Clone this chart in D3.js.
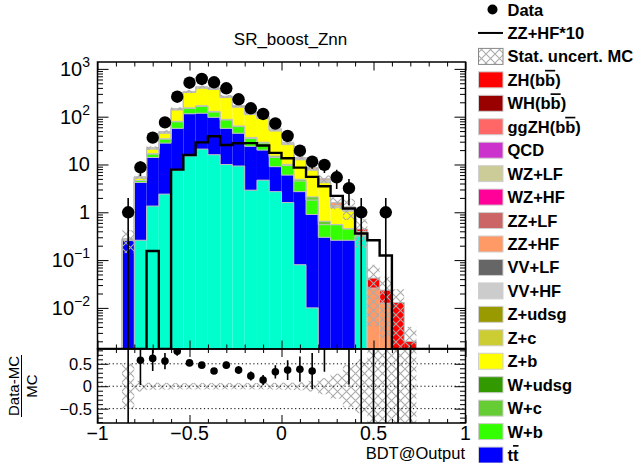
<!DOCTYPE html>
<html><head><meta charset="utf-8">
<script src="https://cdn.jsdelivr.net/npm/d3@7"></script>
<style>
body{margin:0;background:#fff;}
svg{display:block;}
text{font-family:"Liberation Sans",Arial,Helvetica,sans-serif;fill:#000;}
</style>
</head><body>
<svg id="c" width="639" height="463"></svg>
<script>
// ---------------- data (30 bins of BDT output from -1 to 1) ----------------
const nBins = 30;
const xRange = [-1, 1];
const sTop   = [0,0,0,0.26,1.35,2.4,7.5,15,21,16,10,9.3,2.9,4.7,2.7,1.6,0.08,0.01,0,0,0,0.32,0,0,0,0,0,0,0,0];
const ttbar  = [0,0,0.26,3.94,12.65,25.6,49.5,100,97,81,47,35.7,21.1,15.3,6.3,4.4,2.62,0.89,0.3,0.26,0.26,0,0,0,0,0,0,0,0,0];
const Wb     = [0,0,0,0.4,2.5,6,21,35,47,28,28,17,11,8,5,3.5,1.8,0.9,0.25,0.29,0.19,0.02,0,0,0,0,0,0,0,0];
const Wc     = [0,0,0,0,0.3,0.5,2,3,4,4,3,2,1.5,1.2,1,0.6,0.4,0.3,0.1,0,0,0,0,0,0,0,0,0,0,0];
const Wudsg  = [0,0,0,0,0,0,0,0,0,0,0,0,0,0,0,0,0,0,0,0,0,0,0,0,0,0,0,0,0,0];
const Zb     = [0,0,0.01,0.6,4.2,10.5,58,167,226,241,162,94,74,62,35,15.9,7.6,5.5,3.5,0.7,0.6,0.02,0,0,0,0,0,0,0,0];
const Zc     = [0,0,0,0,0.3,1,3,6,7,6,5,4,3,3,1.5,0.8,0.3,0.2,0.2,0.1,0.05,0,0,0,0,0,0,0,0,0];
const Zudsg  = [0,0,0,0,0,0,0,0,0,0,0,0,0,0,0,0,0,0,0,0,0,0,0,0,0,0,0,0,0,0];
const VVHF   = [0,0,0.01,0.3,1.0,2.7,5,10,13,12,9,5.2,5.7,3.3,1.7,0.85,0.34,0.25,0.3,0.03,0.08,0,0,0,0,0,0,0,0,0];
const VVLF   = [0,0,0,0,0,0,0,0,0,0,0,0,0,0,0,0,0,0,0,0,0,0,0,0,0,0,0,0,0,0];
const ZZHF   = [0,0,0,0,0.0155,0,0.78,1.58,2.9,3.9,2.55,2.78,2.8,2.5,1.75,1.35,0.86,0.55,0.35,0.22,0.12,0.036,0.026,0.0125,0,0,0,0,0,0];
const ZZLF   = [0,0,0,0,0,0,0,0,0,0,0,0,0,0,0,0,0,0,0,0,0,0,0,0,0,0,0,0,0,0];
const WZHF   = [0,0,0,0,0,0,0,0,0,0,0,0,0,0,0,0,0,0,0,0,0,0,0,0,0,0,0,0,0,0];
const WZLF   = [0,0,0,0,0,0,0,0,0,0,0,0,0,0,0,0,0,0,0,0,0,0,0,0,0,0,0,0,0,0];
const QCD    = [0,0,0,0,0,0,0,0,0,0,0,0,0,0,0,0,0,0,0,0,0,0,0,0,0,0,0,0,0,0];
const ggZH   = [0,0,0,0,0,0,0,0,0,0,0,0,0,0,0,0,0,0,0,0,0,0,0,0,0,0,0,0,0,0];
const WH     = [0,0,0,0,0,0,0,0,0,0,0,0,0,0,0,0,0,0,0,0,0,0,0,0,0,0,0,0,0,0];
const ZH     = [0,0,0,0,0,0,0,0,0,0,0,0,0,0,0,0,0,0,0,0,0,0.05,0.016,0.011,0.013,0.002,0,0,0,0];
const ZZHFx10 = [0,0,0,0,0.155,0,7.8,15.8,29,39,25.5,27.8,28,25,17.5,13.5,8.6,5.5,3.5,2.2,1.2,0.36,0.26,0.125,0,0,0,0,0,0];
const mcRelErr = [0,0,0.5,0.12,0.08,0.075,0.07,0.07,0.07,0.07,0.07,0.07,0.07,0.07,0.075,0.08,0.09,0.12,0.18,0.28,0.47,0.6,0.9,0.9,0.9,1.0,0,0,0,0];
const dataVal = [null,null,1,8.7,36.4,76,262,514,615,525,393,231,150,114,72,39.5,19.4,11.5,9.8,5.4,3.2,1,null,1,null,null,null,null,null,null];
const dataErr = [null,null,1,2.95,6.0,8.7,16.2,22.7,24.8,22.9,19.8,15.2,12.2,10.7,8.5,6.3,4.4,3.4,3.13,2.32,1.79,1,null,1,null,null,null,null,null,null];
const ratioVal = [null,null,2.6,0.58,0.62,0.56,0.78,0.52,0.47,0.34,0.47,0.36,0.23,0.14,0.32,0.36,0.38,0.34,0.96,2.4,1.46,1.2,-1,41,-1,-1,null,null,null,null];
const ratioErr = [null,null,3.6,0.55,0.28,0.18,0.1,0.065,0.06,0.06,0.075,0.09,0.1,0.11,0.15,0.22,0.28,0.4,0.64,1.4,1.42,2.2,40,42,130,900,null,null,null,null];
const yMajorTicks = [1e-2,1e-1,1,10,100,1000];
const yTickLabels = [["10","−2"],["10","−1"],["1",""],["10",""],["10","2"],["10","3"]];
const xMajorTicks = [-1,-0.5,0,0.5,1];
const xTickLabels = ["−1","−0.5","0","0.5","1"];
const rMajorTicks = [-0.5,0,0.5];
const rTickLabels = ["−0.5","0","0.5"];

// stack, bottom to top
const layers = [
  {name:"sTop", vals:sTop, color:"#00ffcc"},
  {name:"tt", vals:ttbar, color:"#0000ff"},
  {name:"W+b", vals:Wb, color:"#33ff00"},
  {name:"W+c", vals:Wc, color:"#66cc33"},
  {name:"W+udsg", vals:Wudsg, color:"#339900"},
  {name:"Z+b", vals:Zb, color:"#ffff00"},
  {name:"Z+c", vals:Zc, color:"#cccc33"},
  {name:"Z+udsg", vals:Zudsg, color:"#999900"},
  {name:"VV+HF", vals:VVHF, color:"#cccccc"},
  {name:"VV+LF", vals:VVLF, color:"#666666"},
  {name:"ZZ+HF", vals:ZZHF, color:"#ff9966"},
  {name:"ZZ+LF", vals:ZZLF, color:"#cc6666"},
  {name:"WZ+HF", vals:WZHF, color:"#ff0099"},
  {name:"WZ+LF", vals:WZLF, color:"#cccc99"},
  {name:"QCD", vals:QCD, color:"#cc33cc"},
  {name:"ggZH", vals:ggZH, color:"#ff6666"},
  {name:"WH", vals:WH, color:"#990000"},
  {name:"ZH", vals:ZH, color:"#ff0000"}
];

const legendItems = [
  {type:"marker", label:[{t:"Data"}]},
  {type:"line", label:[{t:"ZZ+HF*10"}]},
  {type:"hatch", label:[{t:"Stat. uncert. MC"}]},
  {type:"box", color:"#ff0000", label:[{t:"ZH(b"},{t:"b",o:1},{t:")"}]},
  {type:"box", color:"#990000", label:[{t:"WH(b"},{t:"b",o:1},{t:")"}]},
  {type:"box", color:"#ff6666", label:[{t:"ggZH(b"},{t:"b",o:1},{t:")"}]},
  {type:"box", color:"#cc33cc", label:[{t:"QCD"}]},
  {type:"box", color:"#cccc99", label:[{t:"WZ+LF"}]},
  {type:"box", color:"#ff0099", label:[{t:"WZ+HF"}]},
  {type:"box", color:"#cc6666", label:[{t:"ZZ+LF"}]},
  {type:"box", color:"#ff9966", label:[{t:"ZZ+HF"}]},
  {type:"box", color:"#666666", label:[{t:"VV+LF"}]},
  {type:"box", color:"#cccccc", label:[{t:"VV+HF"}]},
  {type:"box", color:"#999900", label:[{t:"Z+udsg"}]},
  {type:"box", color:"#cccc33", label:[{t:"Z+c"}]},
  {type:"box", color:"#ffff00", label:[{t:"Z+b"}]},
  {type:"box", color:"#339900", label:[{t:"W+udsg"}]},
  {type:"box", color:"#66cc33", label:[{t:"W+c"}]},
  {type:"box", color:"#33ff00", label:[{t:"W+b"}]},
  {type:"box", color:"#0000ff", label:[{t:"t"},{t:"t",o:1}]}
];

// ---------------- layout ----------------
const L = 97.5, R = 465.5, T = 62, M = 349, B = 423;
const svg = d3.select("#c");
const x = d3.scaleLinear(xRange, [L, R]);
const y = d3.scaleLog([Math.pow(10,-2.86), Math.pow(10,3.144)], [M, T]).clamp(true);
const yr = d3.scaleLinear([-0.82, 0.83], [B, M]);
const edges = d3.range(nBins + 1).map(i => xRange[0] + i * (xRange[1] - xRange[0]) / nBins);
const center = i => (edges[i] + edges[i+1]) / 2;
const yv = v => (v > 0 ? y(v) : M);

const defs = svg.append("defs");
const pat = defs.append("pattern").attr("id","hatch").attr("patternUnits","userSpaceOnUse")
  .attr("width",9).attr("height",9);
pat.append("path").attr("d","M0,0L9,9M9,0L0,9").attr("stroke","#aaaaaa").attr("stroke-width",1.1);
defs.append("clipPath").attr("id","clipMain").append("rect").attr("x",L).attr("y",T).attr("width",R-L).attr("height",M-T);
defs.append("clipPath").attr("id","clipRatio").append("rect").attr("x",L).attr("y",M).attr("width",R-L).attr("height",B-M);

// ---------------- main panel ----------------
const gMain = svg.append("g").attr("clip-path","url(#clipMain)");
const cum = [];
let run = new Array(nBins).fill(0);
layers.forEach(l => {
  const lo = run.slice();
  run = run.map((v, i) => v + l.vals[i]);
  cum.push({layer:l, lo:lo, hi:run.slice()});
});
const total = run;

cum.forEach(c => {
  gMain.append("g").selectAll("rect").data(d3.range(nBins).filter(i => c.layer.vals[i] > 0)).join("rect")
    .attr("x", i => x(edges[i])).attr("width", i => x(edges[i+1]) - x(edges[i]))
    .attr("y", i => yv(c.hi[i])).attr("height", i => yv(c.lo[i]) - yv(c.hi[i]))
    .attr("fill", c.layer.color);
});
function stepPath(vals, scaleFn, base) {
  let d = "";
  let open = false;
  for (let i = 0; i < nBins; i++) {
    if (vals[i] > 0) {
      const yy = scaleFn(vals[i]);
      if (!open) { d += `M${x(edges[i])},${base}`; open = true; }
      d += `L${x(edges[i])},${yy}L${x(edges[i+1])},${yy}`;
    } else if (open) {
      d += `L${x(edges[i])},${base}`; open = false;
    }
  }
  if (open) d += `L${x(edges[nBins])},${base}`;
  return d;
}
cum.forEach(c => {
  if (d3.sum(c.layer.vals) <= 0) return;
  gMain.append("path").attr("d", stepPath(c.hi, yv, M)).attr("fill","none")
    .attr("stroke","#c0c0c0").attr("stroke-width",1);
});
gMain.append("g").selectAll("rect").data(d3.range(nBins).filter(i => total[i] > 0)).join("rect")
  .attr("x", i => x(edges[i])).attr("width", i => x(edges[i+1]) - x(edges[i]))
  .attr("y", i => yv(total[i] * (1 + mcRelErr[i])))
  .attr("height", i => yv(total[i] * (1 - mcRelErr[i])) - yv(total[i] * (1 + mcRelErr[i])))
  .attr("fill","url(#hatch)");
{
  let d = `M${x(edges[0])},${yv(ZZHFx10[0])}`;
  for (let i = 0; i < nBins; i++) d += `L${x(edges[i])},${yv(ZZHFx10[i])}L${x(edges[i+1])},${yv(ZZHFx10[i])}`;
  gMain.append("path").attr("d", d).attr("fill","none").attr("stroke","#000").attr("stroke-width",2.4);
}
const dIdx = d3.range(nBins).filter(i => dataVal[i] != null);
gMain.append("g").selectAll("line").data(dIdx).join("line")
  .attr("x1", i => x(center(i))).attr("x2", i => x(center(i)))
  .attr("y1", i => yv(dataVal[i] + dataErr[i])).attr("y2", i => yv(dataVal[i] - dataErr[i]))
  .attr("stroke","#000").attr("stroke-width",1.6);
gMain.append("g").selectAll("circle").data(dIdx).join("circle")
  .attr("cx", i => x(center(i))).attr("cy", i => y(dataVal[i])).attr("r",6.2).attr("fill","#000");

// ---------------- ratio panel ----------------
const gR = svg.append("g").attr("clip-path","url(#clipRatio)");
gR.append("g").selectAll("rect").data(d3.range(nBins).filter(i => total[i] > 0)).join("rect")
  .attr("x", i => x(edges[i])).attr("width", i => x(edges[i+1]) - x(edges[i]))
  .attr("y", i => yr(mcRelErr[i])).attr("height", i => yr(-mcRelErr[i]) - yr(mcRelErr[i]))
  .attr("fill","url(#hatch)");
gR.append("g").selectAll("line").data(rMajorTicks).join("line")
  .attr("x1", L).attr("x2", R).attr("y1", d => yr(d)).attr("y2", d => yr(d))
  .attr("stroke","#000").attr("stroke-width",1).attr("stroke-dasharray","1.2,2.6");
const rIdx = d3.range(nBins).filter(i => ratioVal[i] != null);
gR.append("g").selectAll("line").data(rIdx).join("line")
  .attr("x1", i => x(center(i))).attr("x2", i => x(center(i)))
  .attr("y1", i => yr(Math.min(ratioVal[i] + ratioErr[i], 5))).attr("y2", i => yr(Math.max(ratioVal[i] - ratioErr[i], -5)))
  .attr("stroke","#000").attr("stroke-width",1.6);
gR.append("g").selectAll("circle").data(rIdx.filter(i => ratioVal[i] < 0.83 && ratioVal[i] > -0.82)).join("circle")
  .attr("cx", i => x(center(i))).attr("cy", i => yr(ratioVal[i])).attr("r",3.8).attr("fill","#000");

// ---------------- axes ----------------
function tickSet(g, gen, vals, size) {
  g.call(gen.tickValues(vals).tickSize(size).tickFormat(""));
  g.select(".domain").remove();
  g.selectAll("line").attr("stroke","#000").attr("stroke-width",1);
  g.selectAll("text").remove();
}
const xMinor = d3.range(-10, 11).map(k => k / 10).filter(v => !xMajorTicks.some(m => Math.abs(m - v) < 1e-9));
const yMinor = [];
for (let d = -3; d <= 3; d++) for (let k = 2; k <= 9; k++) { const v = k * Math.pow(10, d); if (v > y.domain()[0] && v < y.domain()[1]) yMinor.push(v); }
const rMinor = d3.range(-8, 9).map(k => k / 10).filter(v => !rMajorTicks.some(m => Math.abs(m - v) < 1e-9));
const ax = svg.append("g");
tickSet(ax.append("g").attr("transform",`translate(0,${M})`), d3.axisTop(x), xMajorTicks, 8.5);
tickSet(ax.append("g").attr("transform",`translate(0,${M})`), d3.axisTop(x), xMinor, 4.5);
tickSet(ax.append("g").attr("transform",`translate(0,${T})`), d3.axisBottom(x), xMajorTicks, 8.5);
tickSet(ax.append("g").attr("transform",`translate(0,${T})`), d3.axisBottom(x), xMinor, 4.5);
tickSet(ax.append("g").attr("transform",`translate(${L},0)`), d3.axisRight(y), yMajorTicks, 11);
tickSet(ax.append("g").attr("transform",`translate(${L},0)`), d3.axisRight(y), yMinor, 5.5);
tickSet(ax.append("g").attr("transform",`translate(${R},0)`), d3.axisLeft(y), yMajorTicks, 11);
tickSet(ax.append("g").attr("transform",`translate(${R},0)`), d3.axisLeft(y), yMinor, 5.5);
tickSet(ax.append("g").attr("transform",`translate(0,${B})`), d3.axisTop(x), xMajorTicks, 8);
tickSet(ax.append("g").attr("transform",`translate(0,${B})`), d3.axisTop(x), xMinor, 4);
tickSet(ax.append("g").attr("transform",`translate(0,${M})`), d3.axisBottom(x), xMajorTicks, 8);
tickSet(ax.append("g").attr("transform",`translate(0,${M})`), d3.axisBottom(x), xMinor, 4);
tickSet(ax.append("g").attr("transform",`translate(${L},0)`), d3.axisRight(yr), rMajorTicks, 11);
tickSet(ax.append("g").attr("transform",`translate(${L},0)`), d3.axisRight(yr), rMinor, 5.5);
tickSet(ax.append("g").attr("transform",`translate(${R},0)`), d3.axisLeft(yr), rMajorTicks, 11);
tickSet(ax.append("g").attr("transform",`translate(${R},0)`), d3.axisLeft(yr), rMinor, 5.5);

svg.append("rect").attr("x",L).attr("y",T).attr("width",R-L).attr("height",M-T).attr("fill","none").attr("stroke","#000").attr("stroke-width",1.5);
svg.append("rect").attr("x",L).attr("y",M).attr("width",R-L).attr("height",B-M).attr("fill","none").attr("stroke","#000").attr("stroke-width",1.5);

yMajorTicks.forEach((v, k) => {
  const t = svg.append("text").attr("x", 90).attr("y", y(v) + 7).attr("text-anchor","end").attr("font-size",20);
  t.append("tspan").text(yTickLabels[k][0]);
  if (yTickLabels[k][1]) t.append("tspan").attr("dy",-9).attr("font-size",14).text(yTickLabels[k][1]);
});
xMajorTicks.forEach((v, k) => {
  svg.append("text").attr("x", x(v)).attr("y", 439.5).attr("text-anchor","middle").attr("font-size",19.5).text(xTickLabels[k]);
});
rMajorTicks.forEach((v, k) => {
  svg.append("text").attr("x", 92).attr("y", yr(v) + 6).attr("text-anchor","end").attr("font-size",16.5).text(rTickLabels[k]);
});

svg.append("text").attr("x",290.5).attr("y",45).attr("text-anchor","middle").attr("font-size",17).text("SR_boost_Znn");
svg.append("text").attr("x",465).attr("y",459).attr("text-anchor","end").attr("font-size",16.5).text("BDT@Output");
const yt = svg.append("g").attr("transform","translate(0,386) rotate(-90)");
yt.append("text").attr("x",0).attr("y",18.5).attr("text-anchor","middle").attr("font-size",15).text("Data-MC");
yt.append("line").attr("x1",-31).attr("x2",31).attr("y1",21.5).attr("y2",21.5).attr("stroke","#000").attr("stroke-width",1);
yt.append("text").attr("x",0).attr("y",36.5).attr("text-anchor","middle").attr("font-size",15).text("MC");

const lg = svg.append("g");
legendItems.forEach((it, k) => {
  const cy = 9.5 + 23.45 * k;
  if (it.type === "marker") lg.append("circle").attr("cx",492.5).attr("cy",cy).attr("r",5).attr("fill","#000");
  else if (it.type === "line") lg.append("line").attr("x1",478).attr("x2",503).attr("y1",cy).attr("y2",cy).attr("stroke","#000").attr("stroke-width",2);
  else {
    lg.append("rect").attr("x",478.5).attr("y",cy-8).attr("width",24.5).attr("height",16)
      .attr("fill", it.type === "hatch" ? "url(#hatch)" : it.color)
      .attr("stroke", it.type === "hatch" ? "#888" : "#cfcfcf").attr("stroke-width",1);
  }
  const t = lg.append("text").attr("x",507.5).attr("y",cy+6).attr("font-size",16.5).attr("font-weight","bold");
  it.label.forEach(s => {
    const ts = t.append("tspan").text(s.t);
    if (s.o) ts.style("text-decoration","overline");
  });
});
</script>
</body></html>
